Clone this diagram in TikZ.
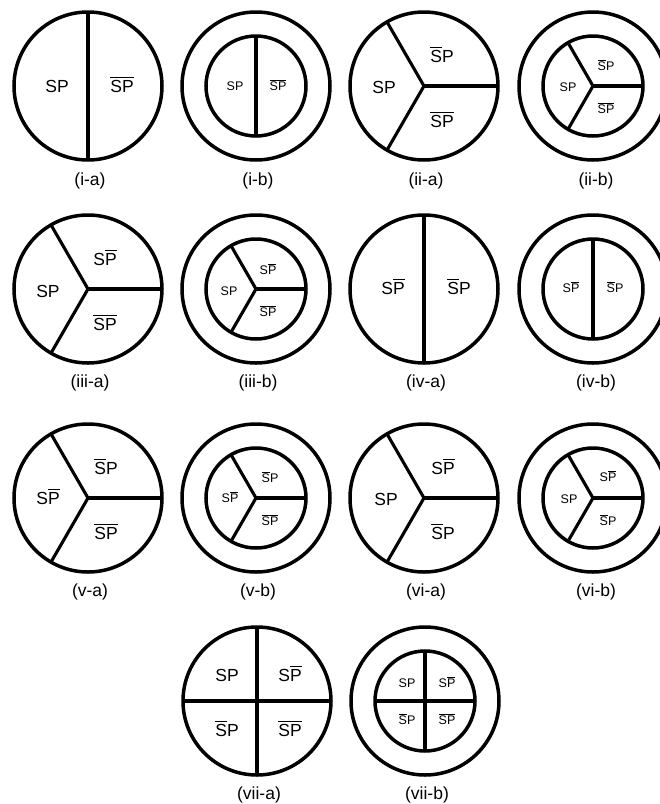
\documentclass[tikz,border=0pt]{standalone}
\usepackage{amsmath}
\usepackage{fontspec}
\setmainfont{Liberation Sans}
\usepackage{tikz}

\newcommand{\Sb}{$\overline{\mbox{S}}$}
\newcommand{\Pb}{$\overline{\mbox{P}}$}

\begin{document}
\begin{tikzpicture}[x=1pt,y=-1pt,
    disc/.style={circle,draw,line width=3.5pt,minimum size=148pt,inner sep=0pt,outer sep=0pt},
    core/.style={circle,draw,line width=3.5pt,minimum size=100pt,inner sep=0pt,outer sep=0pt},
    cut/.style={line width=3.1pt},
    big/.style={font=\fontsize{17.5}{20}\selectfont,inner sep=0pt,text height=12pt,text depth=0pt},
    small/.style={font=\fontsize{12.5}{15}\selectfont,inner sep=0pt,text height=9pt,text depth=0pt},
    tag/.style={font=\fontsize{17.5}{20}\selectfont,inner sep=0pt}]
\useasboundingbox (0,0) rectangle (660,804);

% row 1
\node[disc] (ia) at (88,86) {};
\draw[cut] (ia.north) -- (ia.south);
\node[big] (ia1) at (57,86) {SP};
\node[big] (ia2) at (122,86) {\Sb\Pb};
\node[tag] (ia-t) at (90,181) {(i-a)};

\node[disc] (ib) at (256,86) {};
\node[core] (ibc) at (256,86) {};
\draw[cut] (ibc.north) -- (ibc.south);
\node[small] (ib1) at (235,86) {SP};
\node[small] (ib2) at (278,86) {\Sb\Pb};
\node[tag] (ib-t) at (258,181) {(i-b)};

\node[disc] (iia) at (424,86) {};
\draw[cut] (iia.center) -- (iia.east);
\draw[cut] (iia.center) -- (iia.120);
\draw[cut] (iia.center) -- (iia.240);
\node[big] (iia1) at (384,87) {SP};
\node[big] (iia2) at (442,56) {\Sb P};
\node[big] (iia3) at (442,121) {\Sb\Pb};
\node[tag] (iia-t) at (426,181) {(ii-a)};

\node[disc] (iib) at (593,86) {};
\node[core] (iibc) at (593,86) {};
\draw[cut] (iibc.center) -- (iibc.east);
\draw[cut] (iibc.center) -- (iibc.120);
\draw[cut] (iibc.center) -- (iibc.240);
\node[small] (iib1) at (568,87) {SP};
\node[small] (iib2) at (606,66) {\Sb P};
\node[small] (iib3) at (606,109) {\Sb\Pb};
\node[tag] (iib-t) at (596,181) {(ii-b)};

% row 2
\node[disc] (iiia) at (88,289) {};
\draw[cut] (iiia.center) -- (iiia.east);
\draw[cut] (iiia.center) -- (iiia.120);
\draw[cut] (iiia.center) -- (iiia.240);
\node[big] (iiia1) at (48,291) {SP};
\node[big] (iiia2) at (105,259) {S\Pb};
\node[big] (iiia3) at (105,324) {\Sb\Pb};
\node[tag] (iiia-t) at (90,383) {(iii-a)};

\node[disc] (iiib) at (256,289) {};
\node[core] (iiibc) at (256,289) {};
\draw[cut] (iiibc.center) -- (iiibc.east);
\draw[cut] (iiibc.center) -- (iiibc.120);
\draw[cut] (iiibc.center) -- (iiibc.240);
\node[small] (iiib1) at (229,291) {SP};
\node[small] (iiib2) at (268,270) {S\Pb};
\node[small] (iiib3) at (268,312) {\Sb\Pb};
\node[tag] (iiib-t) at (258,383) {(iii-b)};

\node[disc] (iva) at (424,289) {};
\draw[cut] (iva.north) -- (iva.south);
\node[big] (iva1) at (393,288) {S\Pb};
\node[big] (iva2) at (459,288) {\Sb P};
\node[tag] (iva-t) at (426,383) {(iv-a)};

\node[disc] (ivb) at (593,289) {};
\node[core] (ivbc) at (593,289) {};
\draw[cut] (ivbc.north) -- (ivbc.south);
\node[small] (ivb1) at (571,288) {S\Pb};
\node[small] (ivb2) at (615,288) {\Sb P};
\node[tag] (ivb-t) at (596,383) {(iv-b)};

% row 3
\node[disc] (va) at (88,498) {};
\draw[cut] (va.center) -- (va.east);
\draw[cut] (va.center) -- (va.120);
\draw[cut] (va.center) -- (va.240);
\node[big] (va1) at (48,498) {S\Pb};
\node[big] (va2) at (106,468) {\Sb P};
\node[big] (va3) at (106,533) {\Sb\Pb};
\node[tag] (va-t) at (90,592) {(v-a)};

\node[disc] (vb) at (256,498) {};
\node[core] (vbc) at (256,498) {};
\draw[cut] (vbc.center) -- (vbc.east);
\draw[cut] (vbc.center) -- (vbc.120);
\draw[cut] (vbc.center) -- (vbc.240);
\node[small] (vb1) at (230,498) {S\Pb};
\node[small] (vb2) at (270,478) {\Sb P};
\node[small] (vb3) at (270,521) {\Sb\Pb};
\node[tag] (vb-t) at (258,592) {(v-b)};

\node[disc] (via) at (424,498) {};
\draw[cut] (via.center) -- (via.east);
\draw[cut] (via.center) -- (via.120);
\draw[cut] (via.center) -- (via.240);
\node[big] (via1) at (386,499) {SP};
\node[big] (via2) at (443,468) {S\Pb};
\node[big] (via3) at (443,533) {\Sb P};
\node[tag] (via-t) at (426,592) {(vi-a)};

\node[disc] (vib) at (593,498) {};
\node[core] (vibc) at (593,498) {};
\draw[cut] (vibc.center) -- (vibc.east);
\draw[cut] (vibc.center) -- (vibc.120);
\draw[cut] (vibc.center) -- (vibc.240);
\node[small] (vib1) at (569,499) {SP};
\node[small] (vib2) at (608,477) {S\Pb};
\node[small] (vib3) at (608,521) {\Sb P};
\node[tag] (vib-t) at (596,592) {(vi-b)};

% row 4
\node[disc] (viia) at (257,701) {};
\draw[cut] (viia.north) -- (viia.south);
\draw[cut] (viia.west) -- (viia.east);
\node[big] (viia1) at (227,675) {SP};
\node[big] (viia2) at (290,675) {S\Pb};
\node[big] (viia3) at (227,730) {\Sb P};
\node[big] (viia4) at (290,730) {\Sb\Pb};
\node[tag] (viia-t) at (259,795) {(vii-a)};

\node[disc] (viib) at (425,701) {};
\node[core] (viibc) at (425,701) {};
\draw[cut] (viibc.north) -- (viibc.south);
\draw[cut] (viibc.west) -- (viibc.east);
\node[small] (viib1) at (407,683) {SP};
\node[small] (viib2) at (447,683) {S\Pb};
\node[small] (viib3) at (407,720) {\Sb P};
\node[small] (viib4) at (447,720) {\Sb\Pb};
\node[tag] (viib-t) at (427,795) {(vii-b)};
\end{tikzpicture}
\end{document}
